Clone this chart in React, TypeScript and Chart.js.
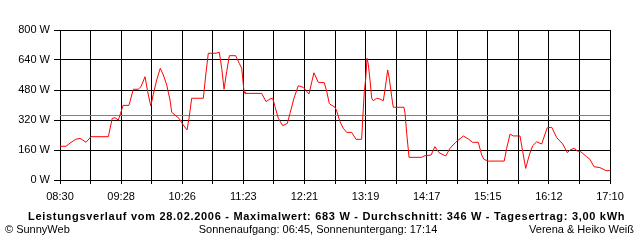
import React, { useEffect, useRef } from "react";
import { Chart, registerables } from "chart.js";

Chart.register(...registerables);

// minutes after 08:30
const minutes = [
  0, 5.7, 9.5, 14.8, 18.9, 21.1, 24.6, 29.3, 45.7, 49.4, 52, 55.1, 57.4, 59.6, 65.2, 69.3, 74, 76.6, 80.4, 82.9,
  85.8, 88.2, 91.4, 94.8, 97.7, 100.9, 104, 105.6, 108.7, 112.5, 116.6, 120.1, 122, 124.5, 135.5, 137.8, 140.2,
  147.5, 150.6, 152.9, 155.1, 157.6, 160.1, 166.1, 169.5, 171.8, 174, 174.9, 190.7, 194.8, 198.5, 201.1, 203.3,
  206.4, 210.5, 214.9, 217.5, 221.2, 225.3, 230, 235.4, 240.1, 244.2, 249.9, 252.2, 254.6, 255.3, 260, 261.6,
  264.7, 267.8, 271.1, 275.8, 279.9, 285.2, 286.2, 287.7, 289, 290.3, 291.5, 293.1, 294.7, 296.2, 299.4, 302.5,
  305.7, 307.9, 309.8, 311.3, 313.6, 315.1, 325.2, 326.2, 327.8, 330, 342, 345.1, 350.8, 354.5, 358.3, 364.7,
  368.7, 374.1, 381.3, 386, 390.2, 395.5, 398.7, 400.9, 404.9, 420, 422.3, 425.5, 428.6, 434.9, 437.5, 440.3,
  443.7, 446.9, 450.7, 455.4, 460.7, 464.9, 469.6, 475.3, 479.6, 482.2, 486, 489.1, 492.3, 498, 501.1, 504.9,
  510.5, 516.2, 520,
];
const watts = [
  180, 180, 197, 217, 222, 215, 201, 231, 231, 329, 332, 320, 357, 398, 398, 484, 484, 498, 551, 471,
  395, 457, 533, 596, 560, 507, 427, 361, 347, 329, 293, 267, 329, 436, 436, 560, 676,
  676, 681, 596, 484, 578, 663, 663, 622, 596, 471, 462, 462, 418, 432, 436, 391,
  329, 290, 302, 356, 436, 503, 494, 459, 572, 521, 519, 471, 409, 404, 388, 368,
  311, 276, 254, 254, 217, 217, 325, 471, 539, 649, 617, 533, 436, 423, 436, 432,
  423, 507, 587, 542, 444, 388, 388, 356, 249, 121, 121, 130, 133, 178, 146, 128,
  169, 201, 235, 219, 201, 201, 133, 110, 101, 101, 169, 245, 235, 235, 151, 62,
  133, 183, 204, 192, 279, 281, 226, 192, 146, 160, 169, 155, 151, 124, 110, 71,
  66, 50, 50,
];
const xTickLabels = ["08:30", "09:28", "10:26", "11:23", "12:21", "13:19", "14:17", "15:15", "16:12", "17:10"];
const yTicks = [0, 160, 320, 480, 640, 800];
const average = 346;
const titleText = "Leistungsverlauf vom 28.02.2006 - Maximalwert: 683 W - Durchschnitt: 346 W - Tagesertrag: 3,00 kWh";
const footerLeft = "© SunnyWeb";
const footerCenter = "Sonnenaufgang: 06:45, Sonnenuntergang: 17:14";
const footerRight = "Verena & Heiko Weiß";

const FONT = "'Liberation Sans', Arial, sans-serif";

export default function App() {
  const ref = useRef<HTMLCanvasElement>(null);
  useEffect(() => {
    document.body.style.margin = "0";
    const span = 520;
    const nGrid = 18;
    const extras = {
      id: "extras",
      beforeDatasetsDraw(chart: any) {
        const ctx = chart.ctx;
        const y = Math.round(chart.scales.y.getPixelForValue(average)) + 0.5;
        ctx.save();
        ctx.strokeStyle = "#808080";
        ctx.lineWidth = 1;
        ctx.beginPath();
        ctx.moveTo(chart.chartArea.left, y);
        ctx.lineTo(chart.chartArea.right, y);
        ctx.stroke();
        ctx.restore();
      },
      afterDraw(chart: any) {
        const ctx = chart.ctx;
        ctx.save();
        ctx.fillStyle = "#000";
        ctx.textBaseline = "alphabetic";
        ctx.font = `bold 11px ${FONT}`;
        (ctx as any).letterSpacing = "0.7px";
        ctx.textAlign = "left";
        const w = ctx.measureText(titleText).width;
        ctx.fillText(titleText, Math.round(327 - w / 2), 220);
        (ctx as any).letterSpacing = "0px";
        ctx.font = `11px ${FONT}`;
        ctx.textAlign = "left";
        ctx.fillText(footerLeft, 5, 233);
        ctx.textAlign = "center";
        ctx.fillText(footerCenter, 318, 233);
        ctx.textAlign = "right";
        ctx.fillText(footerRight, 634, 233);
        ctx.restore();
      },
    };
    const chart = new Chart(ref.current!, {
      type: "line",
      data: {
        datasets: [
          {
            data: minutes.map((m, i) => ({ x: m, y: watts[i] })),
            borderColor: "#ff0000",
            borderWidth: 1,
            pointRadius: 0,
            tension: 0,
            fill: false,
          },
        ],
      },
      options: {
        animation: false,
        responsive: false,
        devicePixelRatio: 1,
        layout: { padding: { top: 30, right: 30, left: 0, bottom: 0 } },
        plugins: { legend: { display: false }, tooltip: { enabled: false }, title: { display: false } },
        scales: {
          x: {
            type: "linear",
            min: 0,
            max: span,
            afterFit(scale: any) {
              scale.height = 60;
            },
            afterBuildTicks(scale: any) {
              scale.ticks = Array.from({ length: nGrid + 1 }, (_, i) => ({ value: (i * span) / nGrid }));
            },
            grid: { color: "#000", lineWidth: 1, tickLength: 4, drawTicks: true },
            border: { color: "#000", width: 1 },
            ticks: {
              autoSkip: false,
              maxRotation: 0,
              padding: 6,
              color: "#000",
              font: { family: FONT, size: 11 },
              callback: (_v: any, i: number) => (i % 2 === 0 ? xTickLabels[i / 2] : ""),
            },
          },
          y: {
            min: 0,
            max: 800,
            afterFit(scale: any) {
              scale.width = 60;
            },
            afterBuildTicks(scale: any) {
              scale.ticks = yTicks.map((v) => ({ value: v }));
            },
            grid: { color: "#000", lineWidth: 1, tickLength: 6, drawTicks: true },
            border: { color: "#000", width: 1 },
            ticks: {
              padding: 4,
              color: "#000",
              font: { family: FONT, size: 11 },
              callback: (v: any) => `${v} W`,
            },
          },
        },
      },
      plugins: [extras],
    } as any);
    return () => chart.destroy();
  }, []);
  return (
    <div style={{ width: 640, height: 240, background: "#fff" }}>
      <canvas ref={ref} width={640} height={240} style={{ display: "block" }} />
    </div>
  );
}
